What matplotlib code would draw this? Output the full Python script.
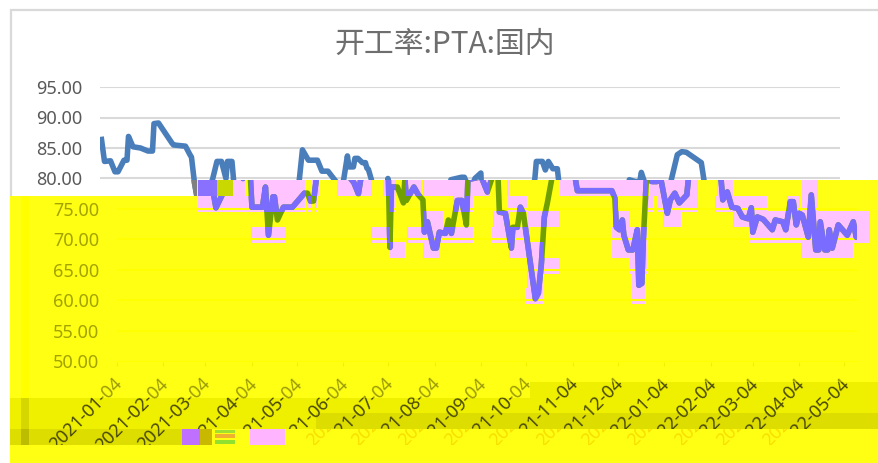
import datetime as dt
import matplotlib
matplotlib.use("Agg")
import matplotlib.pyplot as plt
import matplotlib.dates as mdates
from matplotlib.patches import Rectangle
from matplotlib.path import Path
from matplotlib.transforms import Affine2D, Bbox

title = "开工率:PTA:国内"
start = dt.date(2021, 1, 4)
tick_dates = ["2021-01-04", "2021-02-04", "2021-03-04", "2021-04-04", "2021-05-04", "2021-06-04",
              "2021-07-04", "2021-08-04", "2021-09-04", "2021-10-04", "2021-11-04", "2021-12-04",
              "2022-01-04", "2022-02-04", "2022-03-04", "2022-04-04", "2022-05-04"]
y_ticks = [50, 55, 60, 65, 70, 75, 80, 85, 90, 95]

days = [1, 3, 7, 10, 12, 16, 18, 19, 22, 27, 32, 35, 36, 39, 48, 49, 57, 60, 61, 63, 66, 75, 78, 81, 84, 85, 88, 89,
        90, 97, 99, 101, 104, 105, 107, 111, 117, 125, 127, 129, 131, 133, 135, 139, 145, 148, 152, 158, 161, 165,
        166, 169, 170, 172, 175, 177, 178, 179, 181, 182, 183, 187, 191, 192, 193, 198, 201, 204, 205, 207, 211,
        213, 215, 219, 221, 223, 227, 230, 233, 234, 241, 243, 247, 250, 254, 255, 259, 263, 264, 267, 269, 271,
        279, 281, 283, 285, 287, 290, 291, 295, 297, 299, 302, 305, 306, 307, 330, 332, 333, 335, 337, 338, 341,
        344, 347, 348, 350, 351, 353, 357, 360, 361, 363, 367, 369, 372, 375, 380, 381, 385, 388, 391, 401, 403,
        404, 407, 410, 414, 417, 421, 423, 424, 427, 431, 437, 439, 444, 446, 449, 451, 453, 455, 457, 461, 463,
        466, 468, 469, 472, 474, 475, 477, 481, 487, 491, 493, 494]
rate = [86.4, 82.8, 82.9, 81.1, 81.1, 83, 83, 86.9, 85.2, 85, 84.5, 84.5, 89, 89.1, 85.8, 85.5, 85.3, 83.9, 83.5, 79.3,
        75.2, 79.8, 82.8, 82.8, 80, 82.8, 82.8, 80,
        75.3, 75.3, 78.6, 70.7, 77, 77, 73.2, 75.3, 75.3, 77.6, 77.6, 76.3, 76.3, 80, 84.7, 83, 83, 81.2, 81.2, 79.3,
        77.5, 83.7, 81.9, 81.9, 83.3, 83.3, 82.6, 82.6, 81.7, 81.5, 79.8, 68.7, 78.6, 78.6, 76, 80, 76.4, 78.6, 77.3,
        76.5, 71.2, 72.9, 68.6, 68.6, 71.2, 71, 73.2, 71, 76.4, 76.4, 72.4, 79.8, 80.2, 80.2, 77.8, 80, 80.9, 74.5, 74.3,
        68.6, 72, 72, 75.3, 74.3, 60.3, 61.2, 66, 73.7, 76, 80, 82.8, 82.8, 81.4, 82.8, 81.6, 81.6, 79.4, 78, 78, 76.8,
        72, 71.6, 73.2, 70.7, 68.3, 68.3, 71.6, 62.5, 62.8, 70, 79.8, 79.5, 79.5, 81, 79.5, 74.3, 76.5, 77.6, 76, 77.3,
        79.8, 83.9, 84.4, 84.3, 82.6, 79.4, 76.5, 77.8, 75.3, 75.1, 73.7, 73.4, 75.2, 71.2, 73.7, 73.3, 71.6, 73.2,
        72.9, 71.6, 76.2, 76.2, 72.4, 74.3, 74, 70.4, 77.3, 68.3, 68.3, 72.9, 68.3, 68.3, 71.6, 68.6, 72.4, 70.7, 72.9,
        70.4, 71.6]

W, H = 879, 463
# image pixels (y down) -> display
pix = Affine2D().scale(1, -1).translate(0, H)

line_dates = [mdates.date2num(start + dt.timedelta(days=d)) for d in days]
tick_nums = [mdates.datestr2num(t) for t in tick_dates]
x0 = mdates.date2num(start)

fig = plt.figure(figsize=(W / 100, H / 100), dpi=100, facecolor="white")
plt.rcParams["font.family"] = ["Noto Sans", "DejaVu Sans"]


def box(x0_, y0_, x1_, y1_, color, z, **kw):
    r = Rectangle((x0_, y0_), x1_ - x0_, y1_ - y0_, transform=pix, facecolor=color, edgecolor="none", zorder=z, **kw)
    fig.add_artist(r)
    return r


def clip_box(x0_, y0_, x1_, y1_):
    return Bbox([[x0_, H - y1_], [x1_, H - y0_]])


def layer(shift, z):
    ax = fig.add_axes([(100 + shift) / W, (H - 361.5) / H, 740 / W, 274.5 / H])
    ax.set_facecolor("none")
    ax.set_zorder(z)
    ax.set_xlim(x0, x0 + 493.5)
    ax.set_ylim(50, 95)
    for s in ax.spines.values():
        s.set_visible(False)
    ax.set_xticks(tick_nums)
    ax.set_xticklabels(tick_dates, rotation=45, ha="right", rotation_mode="anchor", fontsize=13)
    ax.tick_params(axis="x", length=3, pad=6.5)
    ax.tick_params(axis="y", length=0, pad=13, labelsize=13)
    ax.set_yticks(y_ticks)
    ax.set_yticklabels(["%.2f" % v for v in y_ticks])
    nudge = Affine2D().translate(-4, 0)
    for lab in ax.get_xticklabels():
        lab.set_transform(lab.get_transform() + nudge)
    return ax


# frame
fig.add_artist(Rectangle((11, 10), 890, 460, transform=pix, facecolor="white", edgecolor="#d9d9d9", lw=1.6, zorder=0))
fig.text(445 / W, 1 - 44 / H, title, ha="center", va="center", fontsize=21.5, color="#6e6e6e",
         family=["Noto Sans CJK SC", "DejaVu Sans"], zorder=1)

# plain chart underneath
ax1 = layer(0, 2)
ax1.grid(axis="y", color="#d9d9d9", lw=1.5)
ax1.set_axisbelow(True)
ax1.tick_params(axis="x", labelbottom=False, length=0)
ax1.tick_params(axis="y", labelcolor="#595959")
ax1.set_yticklabels(["" if v < 80 else "%.2f" % v for v in y_ticks])
ax1.plot(line_dates, rate, color="#4a7ebb", lw=4, solid_joinstyle="round")
grey = ax1.plot(line_dates, rate, color="#808080", lw=4)[0]
grey.set_clip_path(Path([(188, 180), (197, 180), (197, 196), (188, 196), (188, 180)]), pix)

# broken yellow part of the picture
yellow = Path([(10, 196), (197, 196), (197, 180), (879, 180), (879, 463), (10, 463), (10, 196)])
box(10, 196, 879, 463, "#ffff14", 3)
box(197, 180, 879, 196, "#ffff14", 3)
box(21, 196, 29, 398, "#ffff00", 3.1)
box(10, 398, 316, 429, "#efef00", 3.1)
box(10, 429, 182, 445, "#dddd00", 3.1)
box(316, 398, 530, 413, "#efef00", 3.1)
box(316, 413, 879, 429, "#dddd00", 3.1)
box(530, 382, 879, 413, "#efef00", 3.1)
box(21, 398, 29, 429, "#d6d600", 3.2)
box(21, 429, 29, 445, "#bcbc00", 3.2)

pink_rows = {
    180: [(198, 233), (233, 245), (250, 305), (312, 319), (337, 372), (383, 396), (405, 422), (423, 465), (470, 490),
          (507, 510), (560, 648), (650, 663), (663, 698), (717, 733), (802, 818)],
    196: [(198, 305), (308, 312), (315, 317), (390, 395), (453, 473), (508, 527), (613, 618), (648, 653), (658, 698),
          (715, 767), (787, 800), (802, 818)],
    211: [(423, 443), (493, 510), (528, 560), (613, 630), (663, 681), (733, 767), (750, 870)],
    227: [(251, 286), (371, 390), (407, 473), (492, 530), (612, 647), (750, 870)],
    242: [(390, 405), (423, 440), (509, 543), (612, 647), (801, 853)],
    258: [(527, 560), (630, 647)],
    273: [(527, 543), (632, 645)],
    288: [(526, 543), (632, 645)],
}
pink_paths = []
for y, spans in pink_rows.items():
    for a, b in spans:
        box(a, y, b, y + 15.5, "#ffc4ff", 3.5)
        pink_paths.append(Path([(a, y), (b, y), (b, y + 15.5), (a, y + 15.5), (a, y)]))
pink_clip = Path.make_compound_path(*pink_paths)

# same chart again, moved to the right
ax2 = layer(17, 5)
ax2.grid(axis="y", color="#ffff00", lw=1.5)
ax2.set_axisbelow(True)
ax2.tick_params(axis="x", color="#f2f200", labelcolor="#4a4a00")
ax2.tick_params(axis="y", labelcolor="#a3a300")
ax2.set_yticks(y_ticks[:6])
ax2.set_yticklabels(["%.2f" % v for v in y_ticks[:6]])
green = ax2.plot(line_dates, rate, color="#6f9f00", lw=4)[0]
green.set_clip_path(yellow, pix)
purple = ax2.plot(line_dates, rate, color="#7a6cff", lw=4)[0]
purple.set_clip_path(pink_clip, pix)

ax4 = layer(44, 5.1)
ax4.tick_params(axis="x", length=0, labelcolor="#f7e000")
ax4.tick_params(axis="y", labelleft=False)

for i, lab in enumerate(ax2.get_xticklabels()):
    lab.set_clip_box(clip_box(0, 360, W, 445 if i < 3 else 429))
    lab.set_clip_on(True)
for i, lab in enumerate(ax4.get_xticklabels()):
    lab.set_clip_box(clip_box(300, 429, W, 445))
    lab.set_clip_on(True)
    lab.set_visible(i < len(tick_dates) - 1)

# top of the date labels is washed out by the yellow
box(30, 370, 530, 398, "#ffff14", 5.5, alpha=0.45)
box(530, 370, 879, 382, "#ffff14", 5.5, alpha=0.45)

# scraps of the old legend
box(182, 429, 200, 445, "#c070ff", 6)
box(200, 429, 212, 445, "#c8b800", 6)
box(215, 430, 235, 433, "#a0e030", 6)
box(215, 434, 235, 438, "#f0b030", 6)
box(215, 440, 235, 444, "#90e030", 6)
box(250, 429, 285, 445, "#ffb4ff", 6)
box(198, 180, 217, 196, "#8a70ff", 6)
box(217, 180, 233, 196, "#c8d800", 6)

fig.savefig("out.png", dpi=100)
